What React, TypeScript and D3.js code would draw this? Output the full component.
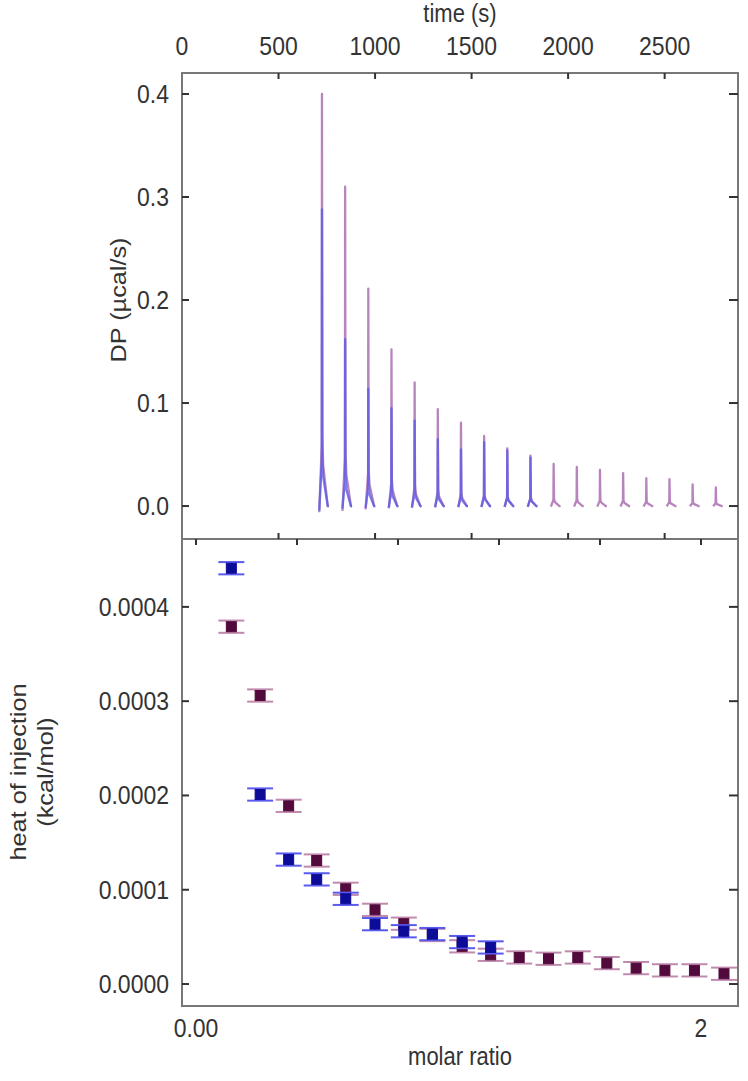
import * as d3 from "d3";

// injection times (s) and peak heights (µcal/s) of the two thermograms
const injectionTimes = [725, 845, 965, 1085, 1205, 1325, 1445, 1565, 1685, 1805, 1925, 2045, 2165, 2285, 2405, 2525, 2645, 2765];
const purplePeaks = [0.4, 0.31, 0.211, 0.152, 0.12, 0.094, 0.081, 0.068, 0.056, 0.049, 0.041, 0.038, 0.035, 0.032, 0.027, 0.026, 0.021, 0.018];
const bluePeaks = [0.288, 0.162, 0.114, 0.095, 0.083, 0.065, 0.055, 0.062, 0.054, 0.047];

// integrated heats per injection
const molarRatio = [0.14, 0.254, 0.367, 0.478, 0.593, 0.709, 0.823, 0.936, 1.054, 1.167, 1.28, 1.396, 1.512, 1.627, 1.743, 1.857, 1.974, 2.091];
const purpleHeat = [0.000379, 0.000306, 0.000189, 0.000131, 0.000101, 0.0000787, 0.000064, 0.000052, 0.00004, 0.000031, 0.0000282, 0.0000268, 0.0000282, 0.0000222, 0.0000169, 0.0000145, 0.0000145, 0.0000109];
const blueHeat = [0.000441, 0.000201, 0.000132, 0.000111, 0.0000904, 0.0000635, 0.000056, 0.000053, 0.0000445, 0.0000388];
const heatErr = 0.0000065;

const timeTicks = [0, 500, 1000, 1500, 2000, 2500];
const dpTicks = [0, 0.1, 0.2, 0.3, 0.4];
const heatTicks = [0, 0.0001, 0.0002, 0.0003, 0.0004];
const ratioTicks = [0, 0.4, 0.8, 1.2, 1.6, 2.0];
const ratioLabels: Record<string, string> = { "0": "0.00", "2": "2" };

// shape of one injection peak: seconds after injection, fraction of peak
const spikeDt = [-14, -1, 0, 2, 6, 30, 36];
const spikeFrac = [-0.015, 0.15, 1, 0.17, 0.1, 0, 0];

const W = 748;
const H = 1081;
const left = 182;
const right = 738;
const top = 73;
const mid = 539;
const bottom = 1006;
const SY = 1.15; // the figure is slightly stretched vertically
const FS = 23;
const font = "'Liberation Sans', Arial, sans-serif";

const purple = "#ab6fb3";
const blue = "#5c5ce6";

function Txt(props: { x: number; y: number; anchor?: string; rot?: boolean; size?: number; children: string }) {
  const { x, y, anchor = "middle", rot = false, size = FS, children } = props;
  return (
    <text
      transform={`translate(${x},${y}) scale(1,${SY})${rot ? " rotate(-90)" : ""}`}
      textAnchor={anchor}
      fontSize={size}
      fontFamily={font}
      fill="#333"
    >
      {children}
    </text>
  );
}

export default function App() {
  const x = d3.scaleLinear().domain([0, 2880]).range([left, right]);
  const yDP = d3.scaleLinear().domain([-0.032, 0.4204]).range([mid, top]);
  const xR = d3.scaleLinear().domain([-0.0554, 2.1465]).range([left, right]);
  const yH = d3.scaleLinear().domain([-0.0000233, 0.000472]).range([bottom, mid]);

  const line = d3
    .line<[number, number]>()
    .x((d) => x(d[0]))
    .y((d) => yDP(d[1]));

  const spike = (t0: number, peak: number) =>
    line(spikeDt.map((dt, i) => [t0 + dt, spikeFrac[i] * peak] as [number, number])) || "";

  const errBar = (mr: number, h: number, cap: string, fill: string, key: string) => {
    const cx = xR(mr);
    const y0 = yH(h + heatErr);
    const y1 = yH(h - heatErr);
    return (
      <g key={key}>
        <line x1={cx} x2={cx} y1={y0} y2={y1} stroke={cap} strokeWidth={2} />
        <line x1={cx - 13} x2={cx + 13} y1={y0} y2={y0} stroke={cap} strokeWidth={2} />
        <line x1={cx - 13} x2={cx + 13} y1={y1} y2={y1} stroke={cap} strokeWidth={2} />
        <rect x={cx - 5} y={yH(h) - 5} width={10} height={10} fill={fill} stroke={fill} strokeWidth={1} />
      </g>
    );
  };

  return (
    <svg width={W} height={H} style={{ position: "absolute", left: 0, top: 0, background: "#fff" }}>
      {/* top panel: thermogram */}
      <g fill="none" strokeWidth={2.3} strokeLinejoin="round">
        {injectionTimes.map((t, i) => (
          <path key={"p" + i} d={spike(t, purplePeaks[i])} stroke={purple} strokeOpacity={0.85} />
        ))}
        {bluePeaks.map((p, i) => (
          <path key={"b" + i} d={spike(injectionTimes[i], p)} stroke={blue} strokeOpacity={0.8} />
        ))}
      </g>

      {/* bottom panel: integrated heats */}
      {molarRatio.map((m, i) => errBar(m, purpleHeat[i], "#c08aae", "#52093c", "ph" + i))}
      {blueHeat.map((h, i) => errBar(molarRatio[i], h, "#5a5aee", "#0c0c98", "bh" + i))}

      {/* frames */}
      <rect x={left} y={top} width={right - left} height={bottom - top} fill="none" stroke="#777" strokeWidth={2} />
      <line x1={left} x2={right} y1={mid} y2={mid} stroke="#777" strokeWidth={2} />

      {/* ticks */}
      <g stroke="#333" strokeWidth={2}>
        {timeTicks.slice(1).map((t) => (
          <g key={"tt" + t}>
            <line x1={x(t)} x2={x(t)} y1={top} y2={top + 6} />
            <line x1={x(t)} x2={x(t)} y1={mid} y2={mid - 6} />
          </g>
        ))}
        {dpTicks.map((v) => (
          <g key={"dt" + v}>
            <line x1={left} x2={left + 7} y1={yDP(v)} y2={yDP(v)} />
            <line x1={right} x2={right - 9} y1={yDP(v)} y2={yDP(v)} />
          </g>
        ))}
        {heatTicks.map((v) => (
          <g key={"ht" + v}>
            <line x1={left} x2={left + 7} y1={yH(v)} y2={yH(v)} />
            <line x1={right} x2={right - 9} y1={yH(v)} y2={yH(v)} />
          </g>
        ))}
        {ratioTicks.map((v) => (
          <line key={"rt" + v} x1={xR(v)} x2={xR(v)} y1={mid} y2={mid + 6} />
        ))}
      </g>

      {/* tick labels */}
      {timeTicks.map((t) => (
        <Txt key={"tl" + t} x={x(t)} y={55}>{String(t)}</Txt>
      ))}
      {dpTicks.map((v) => (
        <Txt key={"dl" + v} x={169} y={yDP(v) + 9} anchor="end">{v.toFixed(1)}</Txt>
      ))}
      {heatTicks.map((v) => (
        <Txt key={"hl" + v} x={169} y={yH(v) + 9} anchor="end">{v.toFixed(4)}</Txt>
      ))}
      {ratioTicks.filter((v) => ratioLabels[String(v)]).map((v) => (
        <Txt key={"rl" + v} x={xR(v)} y={1037}>{ratioLabels[String(v)]}</Txt>
      ))}

      {/* axis titles */}
      <Txt x={460} y={22} size={22}>time (s)</Txt>
      <Txt x={126} y={300} rot size={22}>DP (µcal/s)</Txt>
      <Txt x={26} y={772} rot size={22}>heat of injection</Txt>
      <Txt x={53} y={772} rot size={22}>(kcal/mol)</Txt>
      <Txt x={460} y={1065} size={22}>molar ratio</Txt>
    </svg>
  );
}
